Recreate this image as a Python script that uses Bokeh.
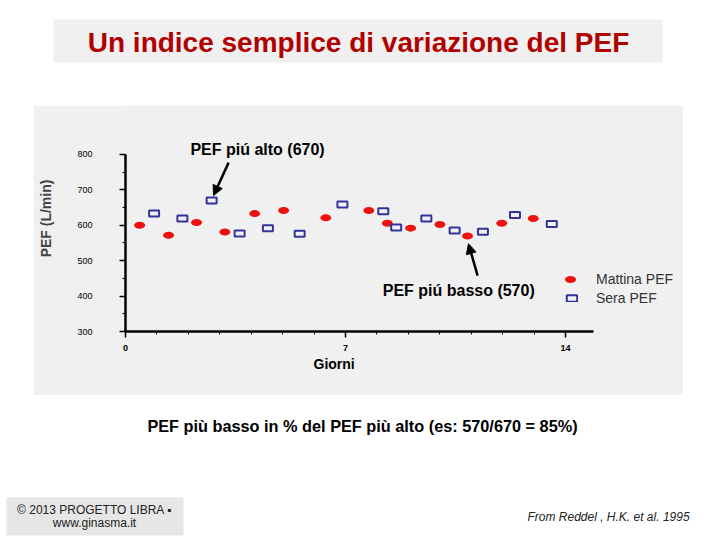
from bokeh.plotting import figure
from bokeh.models import (Range1d, FixedTicker, Label, Arrow, NormalHead, Legend,
                          LegendItem, Spacer, Title)
from bokeh.layouts import column, row
from bokeh.embed import file_html
from bokeh.resources import INLINE

# ---------------- data ----------------
morning_day = [0.45, 1.37, 2.26, 3.16, 4.11, 5.03, 6.37, 7.74, 8.33, 9.07, 10.0, 10.88, 11.97, 12.97]
morning_pef = [600, 572, 608, 581, 633, 642, 621, 642, 606, 592, 602, 570, 606, 619]
evening_day = [0.91, 1.81, 2.74, 3.63, 4.53, 5.54, 6.90, 8.20, 8.61, 9.57, 10.47, 11.37, 12.39, 13.56]
evening_pef = [633, 619, 670, 577, 592, 576, 659, 640, 594, 619, 585, 582, 629, 604]
x_major_ticks = [0, 7, 14]
x_minor_ticks = list(range(0, 15))
y_major_ticks = [300, 400, 500, 600, 700, 800]
y_minor_ticks = [350, 450, 550, 650, 750]

FONT = "Liberation Sans"
PANEL = "#f0f0f0"

hi_val = max(evening_pef)
hi_day = evening_day[evening_pef.index(hi_val)]
lo_val = min(morning_pef)
lo_day = morning_day[morning_pef.index(lo_val)]

# ---------------- title figure ----------------
t = figure(width=720, height=105, x_range=Range1d(0, 720), y_range=Range1d(105, 0),
           x_axis_type=None, y_axis_type=None, min_border=0, output_backend="svg",
           toolbar_location=None, outline_line_color=None, background_fill_color="white",
           border_fill_color="white")
t.quad(left=53, right=662, top=19, bottom=62, fill_color=PANEL, line_color=None)
t.add_layout(Label(x=358, y=42, text="Un indice semplice di variazione del PEF",
                   text_align="center", text_baseline="middle", text_font=FONT,
                   text_font_size="28px", text_font_style="bold", text_color="#b00000"))

# ---------------- main chart ----------------
p = figure(width=650, height=290, x_range=Range1d(0, 17.75), y_range=Range1d(300, 938.4),
           output_backend="svg", toolbar_location=None,
           min_border_left=92, min_border_right=0, min_border_top=0, min_border_bottom=64,
           background_fill_color=PANEL, border_fill_color=PANEL, outline_line_color=None)
p.grid.visible = False

r_m = p.ellipse(x=morning_day, y=morning_pef, width=11, height=7, width_units="screen",
                height_units="screen", fill_color="#ee1111", line_color=None)
r_e = p.rect(x=evening_day, y=evening_pef, width=10, height=6, width_units="screen",
             height_units="screen", fill_color=None, line_color="#333399", line_width=2)

xa = p.xaxis[0]
ya = p.yaxis[0]
xa.ticker = FixedTicker(ticks=x_major_ticks, minor_ticks=x_minor_ticks)
ya.ticker = FixedTicker(ticks=y_major_ticks, minor_ticks=y_minor_ticks + y_major_ticks)
xa.bounds = (0, 14.9)
ya.bounds = (300, 800)
for ax in (xa, ya):
    ax.axis_line_width = 2.5
    ax.axis_line_color = "black"
    ax.major_tick_line_width = 1.5
    ax.minor_tick_line_width = 1
    ax.major_tick_in = 0
    ax.major_tick_out = 6
    ax.minor_tick_in = 0
    ax.minor_tick_out = 3
    ax.major_label_text_font = FONT
    ax.major_label_text_font_size = "9px"
    ax.major_label_text_color = "black"
xa.major_label_text_font_style = "bold"
xa.major_label_standoff = 7
ya.major_label_standoff = 27
ya.axis_label = "PEF (L/min)"
ya.axis_label_text_font = FONT
ya.axis_label_text_font_size = "14px"
ya.axis_label_text_font_style = "bold"
ya.axis_label_standoff = 20

# "Giorni" title placed below the x axis, shifted left as in the original
p.add_layout(Title(text="Giorni", align="left", offset=188, standoff=0,
                   text_font=FONT, text_font_size="14px", text_font_style="bold",
                   text_color="black"), "below")

# annotations
p.add_layout(Label(x=hi_day + 1.46, y=hi_val + 144, text=f"PEF piú alto ({hi_val})",
                   text_align="center", text_baseline="middle", text_font=FONT,
                   text_font_size="16px", text_font_style="bold", text_color="black"))
p.add_layout(Arrow(end=NormalHead(size=10, fill_color="black", line_color="black"),
                   x_start=hi_day + 0.54, y_start=hi_val + 107,
                   x_end=hi_day + 0.06, y_end=hi_val + 14,
                   line_width=2.5, line_color="black"))
p.add_layout(Label(x=lo_day - 0.28, y=lo_val - 154, text=f"PEF piú basso ({lo_val})",
                   text_align="center", text_baseline="middle", text_font=FONT,
                   text_font_size="16px", text_font_style="bold", text_color="black"))
p.add_layout(Arrow(end=NormalHead(size=10, fill_color="black", line_color="black"),
                   x_start=lo_day + 0.32, y_start=lo_val - 112,
                   x_end=lo_day + 0.03, y_end=lo_val - 22,
                   line_width=2.5, line_color="black"))

# legends
leg1 = Legend(items=[LegendItem(label="Mattina PEF", renderers=[r_m])],
              location=(438, 44), glyph_width=14, glyph_height=14, label_standoff=19,
              padding=0, margin=0, spacing=0, border_line_color=None,
              background_fill_alpha=0, label_text_font=FONT, label_text_font_size="14px",
              label_text_color="#333333")
leg2 = Legend(items=[LegendItem(label="Sera PEF", renderers=[r_e])],
              location=(440, 25), glyph_width=13, glyph_height=8, label_standoff=18,
              padding=0, margin=0, spacing=0, border_line_color=None,
              background_fill_alpha=0, label_text_font=FONT, label_text_font_size="14px",
              label_text_color="#333333")
p.add_layout(leg1)
p.add_layout(leg2)

# ---------------- footer figure ----------------
f = figure(width=720, height=144, x_range=Range1d(0, 720), y_range=Range1d(144, 0),
           x_axis_type=None, y_axis_type=None, min_border=0, output_backend="svg",
           toolbar_location=None, outline_line_color=None, background_fill_color="white",
           border_fill_color="white")
pct = round(100 * lo_val / hi_val)
f.add_layout(Label(x=362, y=30,
                   text=f"PEF più basso in % del PEF più alto (es: {lo_val}/{hi_val} = {pct}%)",
                   text_align="center", text_baseline="middle", text_font=FONT,
                   text_font_size="16.3px", text_font_style="bold", text_color="black"))
f.quad(left=6, right=183, top=102, bottom=140, fill_color="#e6e6e6", line_color=None)
f.add_layout(Label(x=94, y=114, text="© 2013 PROGETTO LIBRA ▪", text_align="center",
                   text_baseline="middle", text_font=FONT, text_font_size="12px",
                   text_color="#222222"))
f.add_layout(Label(x=94, y=127, text="www.ginasma.it", text_align="center",
                   text_baseline="middle", text_font=FONT, text_font_size="12px",
                   text_color="#222222"))
f.add_layout(Label(x=527, y=121, text="From Reddel , H.K. et al.  1995", text_align="left",
                   text_baseline="middle", text_font=FONT, text_font_size="12px",
                   text_font_style="italic", text_color="#222222"))

layout = column(t, row(Spacer(width=33, height=290), p), f)
open("out.html", "w").write(file_html(layout, INLINE))
